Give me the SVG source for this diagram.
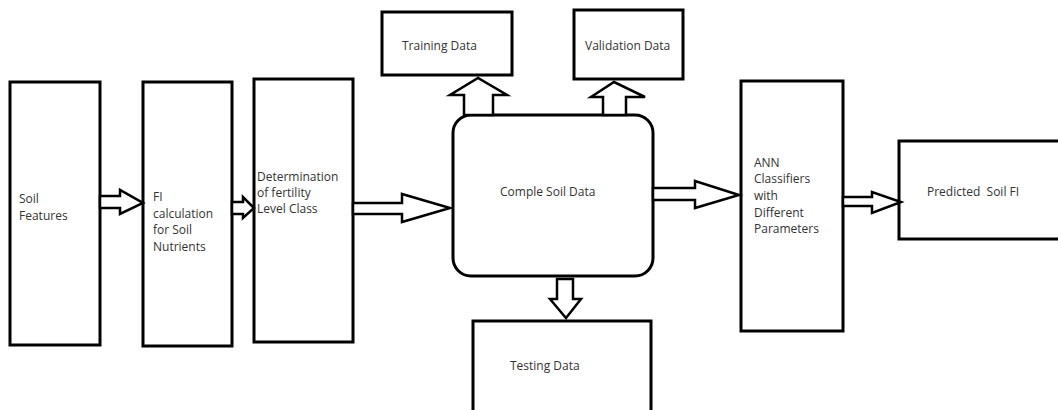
<svg xmlns="http://www.w3.org/2000/svg" width="1058" height="410" viewBox="0 0 1058 410">
<style>
.box{fill:#fff;stroke:#000;stroke-width:3}
.arr{fill:#fff;stroke:#000;stroke-width:2.5;stroke-linejoin:miter}
text{font-family:"Open Sans","Liberation Sans",sans-serif;font-size:12px;fill:#333}
</style>
<rect width="1058" height="410" fill="#fff"/>
<g id="soil-features"><rect class="box" x="10" y="82" width="90" height="263"/><text x="19" y="203">Soil</text><text x="19" y="220">Features</text></g>
<g id="fi-calc"><rect class="box" x="143" y="82" width="89" height="264"/><text x="153" y="201">FI</text><text x="153" y="218">calculation</text><text x="153" y="234">for Soil</text><text x="153" y="251">Nutrients</text></g>
<g id="determination"><rect class="box" x="254" y="79" width="99" height="263"/><text x="257" y="181">Determination</text><text x="257" y="197">of fertility</text><text x="257" y="213">Level Class</text></g>
<g id="training"><rect class="box" x="382" y="12" width="130" height="63"/><text x="402" y="50">Training Data</text></g>
<g id="validation"><rect class="box" x="574" y="10" width="109" height="69"/><text x="585" y="50">Validation Data</text></g>
<g id="complete"><rect class="box" x="453" y="115" width="200" height="161" rx="18" ry="18"/><text x="500" y="196">Comple Soil Data</text></g>
<g id="testing"><rect class="box" x="473" y="321" width="178" height="92"/><text x="510" y="370">Testing Data</text></g>
<g id="ann"><rect class="box" x="741" y="81" width="102" height="250"/><text x="754" y="167">ANN</text><text x="754" y="183">Classifiers</text><text x="754" y="200">with</text><text x="754" y="217">Different</text><text x="754" y="233">Parameters</text></g>
<g id="predicted"><rect class="box" x="899" y="141" width="165" height="98"/><text x="927" y="196" xml:space="preserve">Predicted  Soil FI</text></g>
<g id="connectors">
<polygon class="arr" points="100,196 120,196 120,190 143,203 120,214 120,208 100,208"/>
<polygon class="arr" points="232,202 243,202 243,197 254,208 243,218 243,214 232,214"/>
<polygon class="arr" points="353,203 402,203 402,194 450,208 402,222 402,214 353,214"/>
<polygon class="arr" points="653,188 695,188 695,181 739,195 695,208 695,200 653,200"/>
<polygon class="arr" points="843,197 872,197 872,192 901,202 872,213 872,206 843,206"/>
<polygon class="arr" points="464,115 464,95 450,95 478,78 507,95 493,95 493,115"/>
<polygon class="arr" points="603,115 603,97 591,97 614,82 645,97 626,97 626,115"/>
<polygon class="arr" points="557,279 573,279 573,299 581,299 566,318 550,299 557,299"/>
</g>
</svg>
